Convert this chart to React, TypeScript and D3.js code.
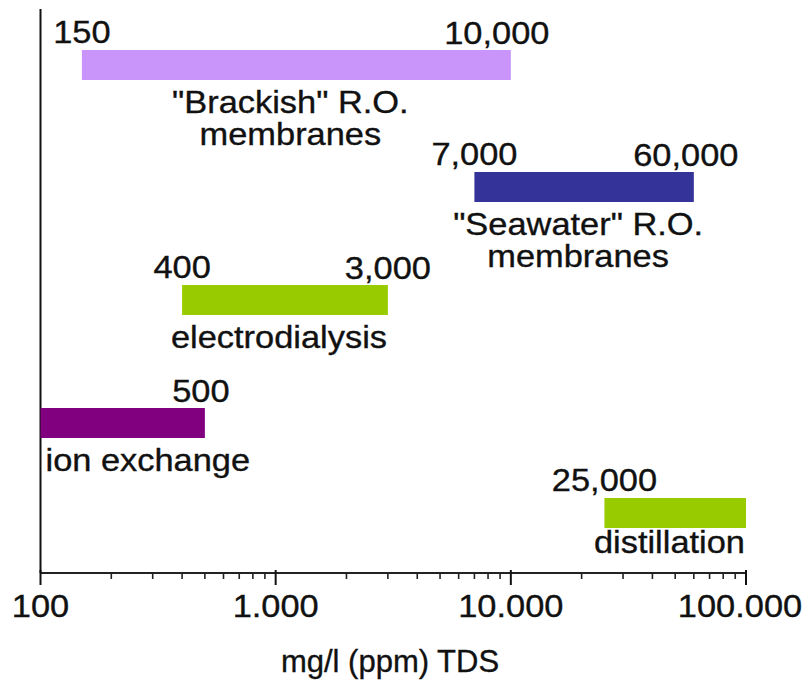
import React from 'react';
import * as d3 from 'd3';

// Desalination processes and the TDS ranges (mg/l) where each one applies
const processNames: string[][] = [
  ['"Brackish" R.O.', 'membranes'],
  ['"Seawater" R.O.', 'membranes'],
  ['electrodialysis'],
  ['ion exchange'],
  ['distillation'],
];
const rangeLow: number[] = [150, 7000, 400, 100, 25000];
const rangeHigh: number[] = [10000, 60000, 3000, 500, 100000];
const lowLabels: (string | null)[] = ['150', '7,000', '400', null, '25,000'];
const highLabels: (string | null)[] = ['10,000', '60,000', '3,000', '500', null];

const tickValues: number[] = [100, 1000, 10000, 100000];
const tickLabels: string[] = ['100', '1.000', '10.000', '100.000'];
const axisTitle = 'mg/l (ppm) TDS';

// Layout and styling
const W = 809;
const H = 692;
const AXIS_Y = 573;
const BAR_H = 30;
const rowTop = [50, 172, 285, 408, 498];
const barColors = ['#c995fb', '#333399', '#99cc00', '#800080', '#99cc00'];
const nameAnchor: ('start' | 'middle' | 'end')[] = ['middle', 'middle', 'middle', 'start', 'end'];
const highDx = [-14, -8, 0, -4, 0];
const FONT = '"Liberation Sans", Arial, Helvetica, sans-serif';
const FS = 31;
const STRETCH = 1.11;

type Anchor = 'start' | 'middle' | 'end';

// Text set in a slightly wide face: the glyphs are stretched horizontally
function Label({ x, y, anchor = 'middle', sx = STRETCH, children }: {
  x: number; y: number; anchor?: Anchor; sx?: number; children: React.ReactNode;
}) {
  return (
    <g transform={`translate(${x},${y}) scale(${sx},1)`}>
      <text x={0} y={0} textAnchor={anchor} stroke="#111" strokeWidth={0.35}>
        {children}
      </text>
    </g>
  );
}

export default function App() {
  const x = d3.scaleLog().domain([100, 100000]).range([40.5, 746]);
  const minorTicks = x.ticks().filter((t) => !tickValues.includes(t));

  return (
    <svg
      width={W}
      height={H}
      viewBox={`0 0 ${W} ${H}`}
      style={{ position: 'absolute', left: 0, top: 0, background: '#fff' }}
      fontFamily={FONT}
      fontSize={FS}
      fill="#111"
    >
      {/* axes */}
      <line x1={x(100)} x2={x(100)} y1={9} y2={AXIS_Y} stroke="#111" strokeWidth={2} />
      <line x1={x(100)} x2={x(100000)} y1={AXIS_Y} y2={AXIS_Y} stroke="#222" strokeWidth={2} />
      {minorTicks.map((t) => (
        <line key={`m${t}`} x1={x(t)} x2={x(t)} y1={AXIS_Y} y2={AXIS_Y + 6} stroke="#222" strokeWidth={1.6} />
      ))}
      {tickValues.map((t, i) => (
        <g key={`t${t}`}>
          <line x1={x(t)} x2={x(t)} y1={AXIS_Y - 3} y2={AXIS_Y + 12} stroke="#111" strokeWidth={2} />
          <Label x={i === 3 ? x(t) - 6 : x(t)} y={617}>
            {tickLabels[i]}
          </Label>
        </g>
      ))}
      <Label x={390} y={672} sx={1.0}>
        {axisTitle}
      </Label>

      {/* range bars with their end values and process names */}
      {processNames.map((lines, i) => {
        const x0 = x(rangeLow[i]);
        const x1 = x(rangeHigh[i]);
        const top = rowTop[i];
        const anchor = nameAnchor[i];
        const nameX =
          anchor === 'middle' ? (x0 + x1) / 2 - 6 : anchor === 'start' ? x0 + 5 : x1 - 1;
        const lineGap = 32;
        const firstBase = top + BAR_H + (anchor === 'end' ? 25 : 33);
        return (
          <g key={i}>
            <rect x={x0} y={top} width={x1 - x0} height={BAR_H} fill={barColors[i]} />
            {lowLabels[i] && (
              <Label x={x0} y={top - 7}>
                {lowLabels[i]}
              </Label>
            )}
            {highLabels[i] && (
              <Label x={x1 + highDx[i]} y={top - 6}>
                {highLabels[i]}
              </Label>
            )}
            {lines.map((ln, j) => (
              <Label key={j} x={nameX} y={firstBase + j * lineGap} anchor={anchor}>
                {ln}
              </Label>
            ))}
          </g>
        );
      })}
    </svg>
  );
}
